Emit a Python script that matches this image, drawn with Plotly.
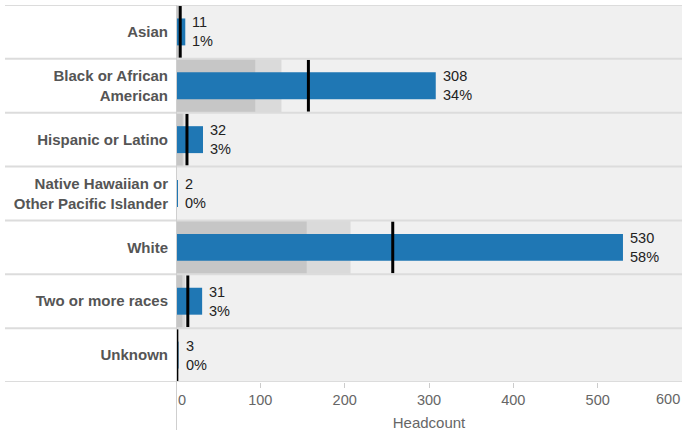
import plotly.graph_objects as go

categories = ["Asian", "Black or African American", "Hispanic or Latino",
              "Native Hawaiian or Other Pacific Islander", "White",
              "Two or more races", "Unknown"]
tick_labels = ["Asian", "Black or African<br>American", "Hispanic or Latino",
               "Native Hawaiian or<br>Other Pacific Islander", "White",
               "Two or more races", "Unknown"]
headcount = [11, 308, 32, 2, 530, 31, 3]
percent_labels = ["1%", "34%", "3%", "0%", "58%", "3%", "0%"]
target = [5, 157, 13, None, 257, 14, 1]
range_low = [3, 94, 8, 0, 155, 7.5, 0.6]
range_high = [4, 125, 10, 0, 207, 11, 0.8]
x_ticks = [0, 100, 200, 300, 400, 500, 600]
x_tick_text = ["\u00a0\u00a0\u00a00", "100", "200", "300", "400", "500", ""]
last_tick_label = "600"

FONT = "Liberation Sans, Arial, sans-serif"

fig = go.Figure()
fig.add_trace(go.Bar(y=categories, x=range_high, orientation="h", width=1.0,
                     marker=dict(color="#dadada", line=dict(width=0)),
                     hoverinfo="skip", showlegend=False))
fig.add_trace(go.Bar(y=categories, x=range_low, orientation="h", width=1.0,
                     marker=dict(color="#c6c6c6", line=dict(width=0)),
                     hoverinfo="skip", showlegend=False))
fig.add_trace(go.Bar(y=categories, x=headcount, orientation="h", width=0.5,
                     marker=dict(color="#1f77b4", line=dict(width=0)),
                     showlegend=False))
fig.add_trace(go.Scatter(y=categories, x=target, mode="markers",
                         marker=dict(symbol="line-ns", size=37,
                                     line=dict(color="black", width=3)),
                         showlegend=False, hoverinfo="skip"))

for c, v, p in zip(categories, headcount, percent_labels):
    fig.add_annotation(x=v, y=c, xref="x", yref="y", text=f"{v}<br>{p}",
                       showarrow=False, xanchor="left", align="left",
                       xshift=5, font=dict(family=FONT, size=14.5, color="#222"))

# last axis label kept inside the page
fig.add_annotation(x=x_ticks[-1], y=0, xref="x", yref="paper",
                   text=last_tick_label, showarrow=False,
                   xanchor="right", yanchor="top", yshift=-7,
                   font=dict(family=FONT, size=14.5, color="#666"))

# row separators
n = len(categories)
for i in range(n + 1):
    fig.add_shape(type="line", xref="paper", yref="y",
                  x0=-171 / 506, x1=1, y0=i - 0.5, y1=i - 0.5,
                  line=dict(color="#dcdcdc", width=2), layer="above")
# vertical axis line extending below plot
fig.add_shape(type="line", xref="x", yref="paper", x0=0, x1=0,
              y0=-0.127, y1=1, line=dict(color="#cfcfcf", width=2),
              layer="above")

fig.update_layout(
    width=682, height=434,
    margin=dict(l=176, r=0, t=5, b=52, autoexpand=False),
    barmode="overlay",
    plot_bgcolor="#f0f0f0", paper_bgcolor="white",
    font=dict(family=FONT, size=14, color="#666"),
    xaxis=dict(range=[0, 600], tickvals=x_ticks, ticktext=x_tick_text,
               showgrid=False,
               zeroline=False, showline=False, ticks="outside", ticklen=5,
               tickcolor="#cccccc", tickwidth=1, automargin=False,
               ticklabeloverflow="allow",
               tickfont=dict(size=14.5, color="#666"),
               title=dict(text="Headcount", font=dict(size=15, color="#666"),
                          standoff=10)),
    yaxis=dict(categoryorder="array", categoryarray=categories,
               range=[n - 0.5, -0.5], automargin=False,
               tickvals=categories, ticktext=tick_labels,
               showgrid=False, zeroline=False, showline=False,
               ticks="outside", ticklen=4, tickcolor="rgba(0,0,0,0)",
               tickfont=dict(size=15, color="#555", weight="bold")),
)

fig.write_html("out.html",
               config={"displayModeBar": False},
               post_script="document.body.style.margin='0';"
                           "document.body.style.overflow='hidden';")
